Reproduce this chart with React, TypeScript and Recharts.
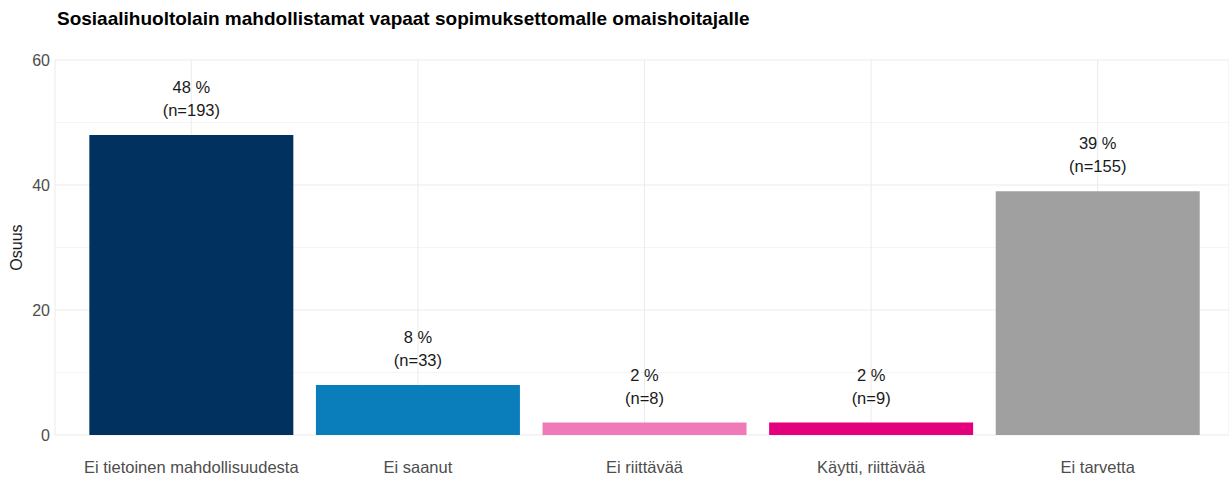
import { BarChart, Bar, XAxis, YAxis, CartesianGrid, Cell, LabelList } from "recharts";

const categories = [
  "Ei tietoinen mahdollisuudesta",
  "Ei saanut",
  "Ei riittävää",
  "Käytti, riittävää",
  "Ei tarvetta",
];
const shares = [48, 8, 2, 2, 39];
const counts = [193, 33, 8, 9, 155];
const colors = ["#00315f", "#0a7dbb", "#f07ab8", "#e4007d", "#a0a0a0"];
const yTicks = [0, 20, 40, 60];
const yMinor = [10, 30, 50];

const data = categories.map((name, i) => ({
  name,
  share: shares[i],
  n: counts[i],
}));

const font = "'Liberation Sans', Arial, sans-serif";

function BarLabel(props: any) {
  const { x, y, width, index } = props;
  const cx = x + width / 2;
  return (
    <g>
      <text x={cx} y={y - 42} textAnchor="middle" fontSize={16.5} fill="#1a1a1a" fontFamily={font}>
        {shares[index]} %
      </text>
      <text x={cx} y={y - 19} textAnchor="middle" fontSize={16.5} fill="#1a1a1a" fontFamily={font}>
        (n={counts[index]})
      </text>
    </g>
  );
}

export default function App() {
  return (
    <div style={{ position: "absolute", left: 0, top: 0, width: 1229, height: 477, background: "#fff", fontFamily: font }}>
      <div
        style={{
          position: "absolute",
          left: 57,
          top: 8,
          fontSize: 19,
          fontWeight: "bold",
          color: "#000",
          whiteSpace: "nowrap",
        }}
      >
        Sosiaalihuoltolain mahdollistamat vapaat sopimuksettomalle omaishoitajalle
      </div>
      <BarChart
        width={1229}
        height={477}
        data={data}
        margin={{ top: 60, right: 0, bottom: 0, left: 0 }}
        barCategoryGap="5%"
      >
        <CartesianGrid horizontal={true} vertical={false} horizontalValues={yMinor} stroke="#f4f4f4" strokeWidth={1} />
        <CartesianGrid stroke="#ebebeb" strokeWidth={1} />
        <XAxis
          dataKey="name"
          height={42}
          axisLine={false}
          tickLine={false}
          tickSize={0}
          tickMargin={26}
          padding={{ left: 23, right: 18 }}
          tick={{ fontSize: 16.5, fill: "#4d4d4d", fontFamily: font }}
          interval={0}
        />
        <YAxis
          width={55}
          domain={[0, 60]}
          ticks={yTicks}
          axisLine={false}
          tickLine={false}
          tickSize={0}
          tickMargin={5}
          tick={{ fontSize: 16, fill: "#4d4d4d", fontFamily: font }}
          label={{ value: "Osuus", angle: -90, position: "center", dx: -11, fontSize: 16, fill: "#1a1a1a", fontFamily: font }}
        />
        <Bar dataKey="share" isAnimationActive={false}>
          {data.map((d, i) => (
            <Cell key={d.name} fill={colors[i]} />
          ))}
          <LabelList dataKey="share" content={<BarLabel />} />
        </Bar>
      </BarChart>
    </div>
  );
}
